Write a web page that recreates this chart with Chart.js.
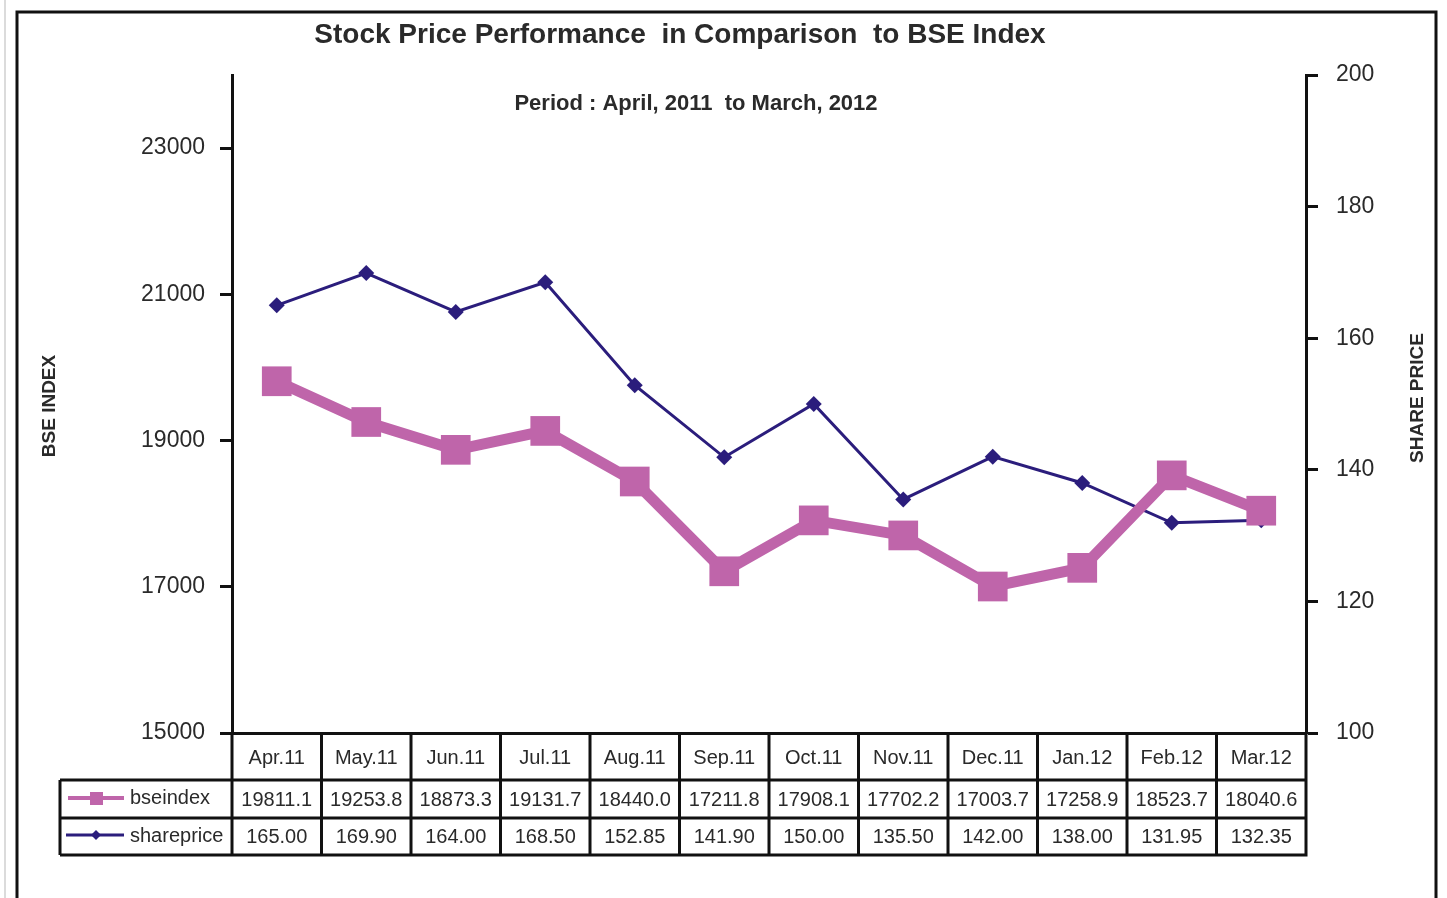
<!DOCTYPE html>
<html>
<head>
<meta charset="utf-8">
<title>Stock Price Performance in Comparison to BSE Index</title>
<script src="https://cdn.jsdelivr.net/npm/chart.js@4.4.1/dist/chart.umd.min.js"></script>
<style>
    html, body { margin: 0; padding: 0; background: #fff; }
    canvas { display: block; }
</style>
</head>
<body>
<canvas id="stockChart" width="1447" height="898"></canvas>
<script>
// data
const months = ['Apr.11', 'May.11', 'Jun.11', 'Jul.11', 'Aug.11', 'Sep.11', 'Oct.11', 'Nov.11', 'Dec.11', 'Jan.12', 'Feb.12', 'Mar.12'];
const bseIndex = [19811.1, 19253.8, 18873.3, 19131.7, 18440.0, 17211.8, 17908.1, 17702.2, 17003.7, 17258.9, 18523.7, 18040.6];
const sharePrice = [165.00, 169.90, 164.00, 168.50, 152.85, 141.90, 150.00, 135.50, 142.00, 138.00, 131.95, 132.35];
const bseTicks = [15000, 17000, 19000, 21000, 23000];
const priceTicks = [100, 120, 140, 160, 180, 200];

const PINK = '#bf65aa';
const NAVY = '#2b1d7c';
const FONT = '"Liberation Sans", Arial, sans-serif';

// frame, titles, axis titles and the data table under the plot
const decorations = {
    id: 'decorations',
    afterDraw(chart) {
        const ctx = chart.ctx;
        const area = chart.chartArea;
        const x = chart.scales.x;
        const colW = (area.right - area.left) / months.length;

        ctx.save();
        // page edge + outer frame
        ctx.strokeStyle = '#cfcfcf';
        ctx.lineWidth = 1.5;
        ctx.beginPath(); ctx.moveTo(5, 0); ctx.lineTo(5, 898); ctx.stroke();
        ctx.strokeStyle = '#111';
        ctx.lineWidth = 3;
        ctx.strokeRect(17, 12, 1419, 900);

        // titles
        ctx.fillStyle = '#2a2a2a';
        ctx.textAlign = 'center';
        ctx.textBaseline = 'middle';
        ctx.font = 'bold 28px ' + FONT;
        ctx.fillText('Stock Price Performance  in Comparison  to BSE Index', 680, 35);
        ctx.font = 'bold 22px ' + FONT;
        ctx.fillText('Period : April, 2011  to March, 2012', 696, 104);

        // squeezed vertical axis titles
        ctx.font = 'bold 19px ' + FONT;
        ctx.save();
        ctx.translate(50, 406);
        ctx.rotate(-Math.PI / 2);
        ctx.fillText('BSE INDEX', 0, 0, 128);
        ctx.restore();
        ctx.save();
        ctx.translate(1418, 398);
        ctx.rotate(-Math.PI / 2);
        ctx.fillText('SHARE PRICE', 0, 0, 162);
        ctx.restore();

        // table grid
        const top = area.bottom, r1 = 780, r2 = 818, r3 = 855, legL = 60;
        ctx.strokeStyle = '#111';
        ctx.lineWidth = 3;
        ctx.beginPath();
        ctx.moveTo(legL, r1); ctx.lineTo(area.right, r1);
        ctx.moveTo(legL, r2); ctx.lineTo(area.right, r2);
        ctx.moveTo(legL, r3); ctx.lineTo(area.right + 1.5, r3);
        ctx.moveTo(legL, r1); ctx.lineTo(legL, r3);
        for (let i = 0; i <= months.length; i++) {
            const gx = area.left + i * colW;
            ctx.moveTo(gx, top); ctx.lineTo(gx, r3);
        }
        ctx.stroke();

        // table text
        ctx.fillStyle = '#2a2a2a';
        ctx.font = '20px ' + FONT;
        ctx.textAlign = 'center';
        months.forEach((m, i) => {
            const cx = x.getPixelForValue(i);
            ctx.fillText(m, cx, 758);
            ctx.fillText(bseIndex[i].toFixed(1), cx, 800);
            ctx.fillText(sharePrice[i].toFixed(2), cx, 837);
        });

        // legend keys
        ctx.textAlign = 'left';
        ctx.fillText('bseindex', 130, 798);
        ctx.fillText('shareprice', 130, 836);
        ctx.strokeStyle = PINK;
        ctx.lineWidth = 4;
        ctx.beginPath(); ctx.moveTo(68, 798); ctx.lineTo(124, 798); ctx.stroke();
        ctx.fillStyle = PINK;
        ctx.fillRect(90, 792, 13, 13);
        ctx.strokeStyle = NAVY;
        ctx.lineWidth = 3;
        ctx.beginPath(); ctx.moveTo(66, 835); ctx.lineTo(124, 835); ctx.stroke();
        ctx.fillStyle = NAVY;
        ctx.beginPath();
        ctx.moveTo(96, 830); ctx.lineTo(101, 835); ctx.lineTo(96, 840); ctx.lineTo(91, 835);
        ctx.closePath(); ctx.fill();
        ctx.restore();
    }
};

new Chart(document.getElementById('stockChart'), {
    type: 'line',
    data: {
        labels: months,
        datasets: [{
            label: 'bseindex',
            data: bseIndex,
            yAxisID: 'y',
            borderColor: PINK,
            backgroundColor: PINK,
            borderWidth: 11,
            pointStyle: 'rect',
            pointRadius: 21,
            pointBorderWidth: 0,
            tension: 0
        }, {
            label: 'shareprice',
            data: sharePrice,
            yAxisID: 'y1',
            borderColor: NAVY,
            backgroundColor: NAVY,
            borderWidth: 3,
            pointStyle: 'rectRot',
            pointRadius: 8,
            pointBorderWidth: 0,
            tension: 0
        }]
    },
    options: {
        responsive: false,
        devicePixelRatio: 1,
        animation: false,
        layout: { padding: { top: 75, left: 0, right: 0, bottom: 0 } },
        plugins: {
            legend: { display: false },
            title: { display: false },
            tooltip: { enabled: false }
        },
        scales: {
            x: {
                offset: true,
                grid: { drawOnChartArea: false, drawTicks: false },
                border: { display: true, color: '#111', width: 3 },
                ticks: { display: false },
                afterFit: s => { s.height = 165; }
            },
            y: {
                position: 'left',
                min: 15000,
                max: 24000,
                afterBuildTicks: s => { s.ticks = bseTicks.map(v => ({ value: v })); },
                grid: { drawOnChartArea: false, drawTicks: true, tickLength: 12, tickWidth: 3, tickColor: '#111' },
                border: { display: true, color: '#111', width: 3 },
                ticks: { color: '#2a2a2a', padding: 15, font: { family: FONT, size: 23 }, callback: v => String(v) },
                afterFit: s => { s.width = 232; }
            },
            y1: {
                position: 'right',
                min: 100,
                max: 200,
                afterBuildTicks: s => { s.ticks = priceTicks.map(v => ({ value: v })); },
                grid: { drawOnChartArea: false, drawTicks: true, tickLength: 12, tickWidth: 3, tickColor: '#111' },
                border: { display: true, color: '#111', width: 3 },
                ticks: { color: '#2a2a2a', padding: 18, font: { family: FONT, size: 23 }, callback: v => String(v) },
                afterFit: s => { s.width = 141; }
            }
        }
    },
    plugins: [decorations]
});
</script>
</body>
</html>
